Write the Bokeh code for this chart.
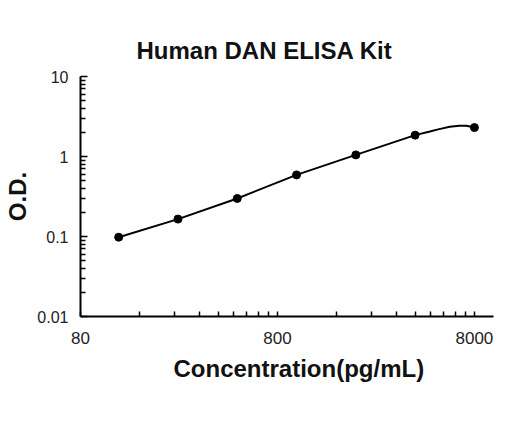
from bokeh.plotting import figure
from bokeh.models import FixedTicker, Title
from bokeh.embed import file_html
from bokeh.resources import INLINE

# Data
conc = [125, 250, 500, 1000, 2000, 4000, 8000]
od = [0.098, 0.165, 0.299, 0.589, 1.047, 1.85, 2.30]

# Fitted curve
curve_x = [125, 250, 500, 1000, 2000, 4000, 4700, 5300, 6000, 6700, 7300, 8000]
curve_y = [0.098, 0.165, 0.299, 0.589, 1.047, 1.85, 2.04, 2.20, 2.35, 2.43, 2.42, 2.30]

x_major = [80, 800, 8000]
y_major = [0.01, 0.1, 1, 10]
x_minor = [m * d for d in (80, 800) for m in range(2, 10)]
y_minor = [m * d for d in (0.01, 0.1, 1) for m in range(2, 10)]

title = "Human DAN ELISA Kit"
x_label = "Concentration(pg/mL)"
y_label = "O.D."

FONT = "Liberation Sans"

p = figure(width=504, height=405, x_axis_type="log", y_axis_type="log",
           x_range=(80, 10000), y_range=(0.01, 10),
           output_backend="svg", toolbar_location=None,
           min_border_left=80, min_border_right=11,
           min_border_top=76, min_border_bottom=89)

p.title.text = title
p.title.text_font = FONT
p.title.text_font_size = "24px"
p.title.text_font_style = "bold"
p.title.text_color = "#111111"
p.title.align = "left"
p.title.offset = 56
p.title.standoff = 26

p.grid.visible = False
p.outline_line_color = None
p.background_fill_color = "white"
p.border_fill_color = "white"

p.xaxis.ticker = FixedTicker(ticks=x_major, minor_ticks=x_minor)
p.yaxis.ticker = FixedTicker(ticks=y_major, minor_ticks=y_minor)
p.xaxis.major_label_overrides = {80: "80", 800: "800", 8000: "8000"}
p.yaxis.major_label_overrides = {0.01: "0.01", 0.1: "0.1", 1: "1", 10: "10"}

for ax in (p.xaxis[0], p.yaxis[0]):
    ax.axis_line_color = "black"
    ax.axis_line_width = 2
    ax.major_tick_line_color = "black"
    ax.minor_tick_line_color = "black"
    ax.major_tick_line_width = 1.5
    ax.minor_tick_line_width = 1.5
    ax.major_tick_out = 0
    ax.minor_tick_out = 0
    ax.major_label_text_font = FONT
    ax.major_label_text_color = "#222222"
    ax.axis_label_text_font = FONT
    ax.axis_label_text_font_size = "24px"
    ax.axis_label_text_font_style = "bold"
    ax.axis_label_text_color = "#111111"

p.xaxis.major_label_text_font_size = "17px"
p.yaxis.major_label_text_font_size = "16px"
p.xaxis.major_tick_in = 5
p.xaxis.minor_tick_in = 5
p.yaxis.major_tick_in = 7
p.yaxis.minor_tick_in = 5
p.xaxis.major_label_standoff = 15
p.yaxis.major_label_standoff = 12
p.yaxis.axis_label = y_label
p.yaxis.axis_label_standoff = 3

xt = Title(text=x_label, align="left", offset=93, standoff=13,
           text_font=FONT, text_font_size="24px", text_font_style="bold",
           text_color="#111111")
p.add_layout(xt, "below")

p.line(curve_x, curve_y, line_color="black", line_width=2)
p.scatter(conc, od, size=8, fill_color="black", line_color="black")

open("out.html", "w").write(file_html(p, INLINE))
